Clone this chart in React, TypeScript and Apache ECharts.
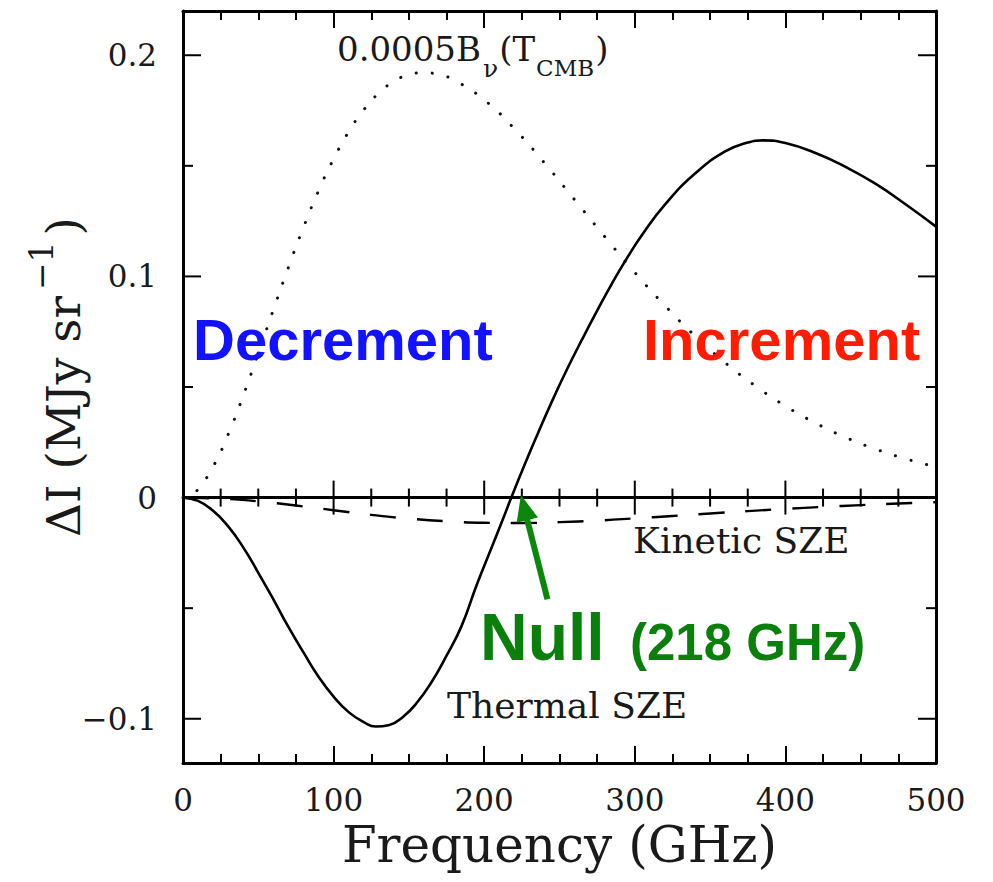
import React, { useEffect, useRef } from "react";
import * as echarts from "echarts";

const SERIF = '"DejaVu Serif", "Liberation Serif", serif';
const SANS = '"Liberation Sans", Arial, sans-serif';

// Frequency axis (GHz)
const FREQ_MIN = 0;
const FREQ_MAX = 500;
const FREQ_STEP = 100;

// Intensity axis (MJy sr^-1)
const DI_MIN = -0.12;
const DI_MAX = 0.22;
const DI_MAJOR_TICKS = [-0.1, 0, 0.1, 0.2];
const DI_MINOR_TICKS = [-0.05, 0.05, 0.15];

// ticks drawn across the zero line
const ZERO_LINE_TICKS = [25, 50, 75, 100, 125, 150, 175, 200, 225, 250, 275, 300, 325, 350, 375, 400, 425, 450, 475];

// Thermal SZE spectral distortion
const thermalFreq = [
  0, 10, 20, 30, 40, 50, 60, 70, 80, 90, 100, 110, 120, 128, 137, 146, 155, 165, 175, 185, 195, 205, 212,
  218, 226, 235, 245, 255, 265, 275, 285, 295, 305, 320, 340, 360, 375, 385, 400, 420, 440, 460, 480, 500,
];
const thermalDI = [
  0, -0.0015, -0.006, -0.013, -0.0225, -0.034, -0.046, -0.0585, -0.07, -0.081, -0.09, -0.097, -0.1015,
  -0.1035, -0.1028, -0.0992, -0.093, -0.0835, -0.0715, -0.058, -0.0395, -0.0225, -0.0105,
  0, 0.0135, 0.028, 0.0435, 0.058, 0.0715, 0.0845, 0.097, 0.1085, 0.119, 0.1325, 0.1465, 0.1565, 0.1605,
  0.1615, 0.1603, 0.1558, 0.1495, 0.1418, 0.1325, 0.1225,
];

// Kinetic SZE
const kineticFreq = [0, 25, 50, 75, 100, 125, 150, 175, 200, 225, 250, 275, 300, 325, 350, 375, 400, 425, 450, 475, 500];
const kineticDI = [
  0, -0.0005, -0.0017, -0.0036, -0.0057, -0.0078, -0.0095, -0.0107, -0.0114, -0.0115, -0.0111, -0.0104,
  -0.0094, -0.0083, -0.0072, -0.0061, -0.0051, -0.0042, -0.0034, -0.0027, -0.0021,
];

// 0.0005 x CMB blackbody
const cmbFreq = [
  0, 5, 10, 20, 30, 40, 50, 60, 70, 80, 90, 100, 110, 120, 130, 140, 150, 160, 170, 180, 200, 220, 240,
  260, 280, 300, 320, 340, 360, 380, 400, 420, 440, 460, 480, 500,
];
const cmbDI = [
  0, 0.001, 0.0038, 0.014, 0.0286, 0.0461, 0.0653, 0.0849, 0.1041, 0.1222, 0.1387, 0.1531, 0.1654, 0.1753,
  0.1829, 0.1881, 0.1912, 0.1921, 0.1912, 0.1888, 0.1798, 0.1668, 0.1513, 0.1347, 0.118, 0.1018, 0.0868,
  0.0731, 0.061, 0.0505, 0.0414, 0.0337, 0.0272, 0.0219, 0.0175, 0.0139,
];

const pairs = (xs: number[], ys: number[]) => xs.map((x, i) => [x, ys[i]]);

function textWidth(text: string, size: number, family: string, weight = "normal") {
  const ctx = document.createElement("canvas").getContext("2d");
  if (!ctx) return text.length * size * 0.6;
  ctx.font = `${weight} ${size}px ${family}`;
  return ctx.measureText(text).width;
}

// central-baseline offset for DejaVu / Liberation
const central = (size: number) => -0.346 * size;

type Piece = { t: string; fs: number; dy: number; gap?: number };

function flowText(pieces: Piece[], family: string, fill: string) {
  let x = 0;
  return pieces.map((p) => {
    x += p.gap ?? 0;
    const el = {
      type: "text",
      x,
      y: p.dy + central(p.fs),
      style: {
        text: p.t,
        fontSize: p.fs,
        fontFamily: family,
        fill,
        align: "left",
        verticalAlign: "middle",
      },
    };
    x += textWidth(p.t, p.fs, family);
    return el;
  });
}

function flowWidth(pieces: Piece[], family: string) {
  return pieces.reduce((s, p) => s + (p.gap ?? 0) + textWidth(p.t, p.fs, family), 0);
}

function label(text: string, x: number, baseline: number, fs: number, family: string, fill: string, weight = "normal") {
  return {
    type: "text",
    x,
    y: baseline + central(fs),
    z: 50,
    style: {
      text,
      fontSize: fs,
      fontFamily: family,
      fontWeight: weight,
      fill,
      align: "left",
      verticalAlign: "middle",
    },
  };
}

const fmtDI = (v: number) => (Math.abs(v) < 1e-9 ? "0" : (v < 0 ? "\u2212" : "") + Math.abs(v).toFixed(1));

// inward ticks on the left and right frame edges at the given intensities
function frameTicks(values: number[], len: number) {
  return {
    type: "custom",
    data: values.map((v) => [FREQ_MIN, v]),
    encode: { x: 0, y: 1 },
    silent: true,
    z: 6,
    renderItem: (params: any, api: any) => {
      const v = api.value(1);
      const l = api.coord([FREQ_MIN, v]);
      const r = api.coord([FREQ_MAX, v]);
      const style = { stroke: "#000", lineWidth: 2 };
      return {
        type: "group",
        children: [
          { type: "line", shape: { x1: l[0], y1: l[1], x2: l[0] + len, y2: l[1] }, style },
          { type: "line", shape: { x1: r[0] - len, y1: r[1], x2: r[0], y2: r[1] }, style },
        ],
      };
    },
  };
}

export default function App() {
  const ref = useRef<HTMLDivElement>(null);

  useEffect(() => {
    if (!ref.current) return;
    const chart = echarts.init(ref.current, undefined, { renderer: "svg" });

    const frame = { show: true, lineStyle: { color: "#000", width: 3 } };
    const tickLine = { color: "#000", width: 2 };

    const xBase = {
      type: "value",
      min: FREQ_MIN,
      max: FREQ_MAX,
      interval: FREQ_STEP,
      axisLine: { ...frame, onZero: false },
      axisTick: { show: true, inside: true, length: 17, lineStyle: tickLine },
      minorTick: { show: true, splitNumber: 4, length: 9, lineStyle: tickLine },
      splitLine: { show: false },
    };

    const yBase = {
      type: "value",
      min: DI_MIN,
      max: DI_MAX,
      splitLine: { show: false },
      axisTick: { show: false },
      axisLine: { ...frame, onZero: false },
    };

    const bLabel: Piece[] = [
      { t: "0.0005B", fs: 34, dy: 0 },
      { t: "\u03bd", fs: 25, dy: 16, gap: 2 },
      { t: "(T", fs: 34, dy: 0, gap: 1 },
      { t: "CMB", fs: 23, dy: 15, gap: 1 },
      { t: ")", fs: 34, dy: 0, gap: 1 },
    ];

    const yTitle: Piece[] = [
      { t: "\u0394I (MJy sr", fs: 47, dy: 0 },
      { t: "\u22121", fs: 33, dy: -27, gap: 6 },
      { t: ")", fs: 47, dy: 0, gap: 6 },
    ];
    const yTitleW = flowWidth(yTitle, SERIF);

    chart.setOption({
      animation: false,
      backgroundColor: "#fff",
      grid: { left: 183, right: 57, top: 11, bottom: 119, show: false, outerBoundsMode: "none" },
      xAxis: [
        {
          ...xBase,
          position: "bottom",
          axisLabel: { show: true, margin: 21, fontSize: 31, fontFamily: SERIF, color: "#1a1a1a" },
          name: "Frequency (GHz)",
          nameLocation: "middle",
          nameGap: 53,
          nameTextStyle: { fontSize: 50, fontFamily: SERIF, color: "#1a1a1a" },
        },
        { ...xBase, position: "top", axisLabel: { show: false } },
      ],
      yAxis: [
        {
          ...yBase,
          position: "left",
          axisLabel: {
            show: true,
            margin: 26,
            fontSize: 31,
            fontFamily: SERIF,
            color: "#1a1a1a",
            customValues: DI_MAJOR_TICKS,
            formatter: fmtDI,
          },
        },
        { ...yBase, position: "right", axisLabel: { show: false } },
      ],
      series: [
        {
          name: "Kinetic SZE",
          type: "line",
          data: pairs(kineticFreq, kineticDI),
          showSymbol: false,
          smooth: true,
          lineStyle: { color: "#000", width: 2.4, type: [26, 21] },
          markLine: {
            silent: true,
            symbol: "none",
            label: { show: false },
            lineStyle: { color: "#000", width: 3, type: "solid" },
            data: [{ yAxis: 0 }],
          },
          z: 3,
        },
        {
          name: "0.0005 B_nu(T_CMB)",
          type: "line",
          data: pairs(cmbFreq, cmbDI),
          showSymbol: false,
          smooth: true,
          lineStyle: { color: "#111", width: 3, type: [0.1, 16], cap: "round" },
          markLine: {
            silent: true,
            symbol: ["none", "triangle"],
            symbolSize: [22, 26],
            label: { show: false },
            lineStyle: { color: "#0b870b", width: 6, type: "solid" },
            data: [[{ coord: [242, -0.046] }, { coord: [226.5, -0.0045] }]],
          },
          z: 2,
        },
        {
          name: "Thermal SZE",
          type: "line",
          data: pairs(thermalFreq, thermalDI),
          showSymbol: false,
          smooth: true,
          lineStyle: { color: "#000", width: 2.6 },
          z: 5,
        },
        {
          name: "zero-line ticks",
          type: "custom",
          data: ZERO_LINE_TICKS.map((f) => [f, 0]),
          encode: { x: 0, y: 1 },
          silent: true,
          z: 4,
          renderItem: (params: any, api: any) => {
            const f = api.value(0);
            const p = api.coord([f, 0]);
            const half = f % FREQ_STEP === 0 ? 17 : 9;
            return {
              type: "line",
              shape: { x1: p[0], y1: p[1] - half, x2: p[0], y2: p[1] + half },
              style: { stroke: "#000", lineWidth: 2 },
            };
          },
        },
        { name: "major intensity ticks", ...frameTicks(DI_MAJOR_TICKS, 18) },
        { name: "minor intensity ticks", ...frameTicks(DI_MINOR_TICKS, 10) },
      ],
      graphic: [
        { type: "group", x: 337, y: 61, z: 50, children: flowText(bLabel, SERIF, "#1a1a1a") },
        {
          type: "group",
          x: 80,
          y: 377 + yTitleW / 2,
          rotation: Math.PI / 2,
          z: 50,
          children: flowText(yTitle, SERIF, "#1a1a1a"),
        },
        label("Decrement", 193, 360, 58, SANS, "#1212ff", "bold"),
        label("Increment", 643, 360, 58, SANS, "#ff1c00", "bold"),
        label("Kinetic SZE", 633, 553, 36, SERIF, "#1a1a1a"),
        label("Thermal SZE", 447, 718, 36, SERIF, "#1a1a1a"),
        label("Null", 480, 660, 66, SANS, "#0b7f0b", "bold"),
        label("(218 GHz)", 630, 660, 51, SANS, "#0b7f0b", "bold"),
      ],
    });

    return () => chart.dispose();
  }, []);

  return (
    <div
      ref={ref}
      style={{ position: "fixed", left: 0, top: 0, width: 993, height: 882, background: "#fff" }}
    />
  );
}
